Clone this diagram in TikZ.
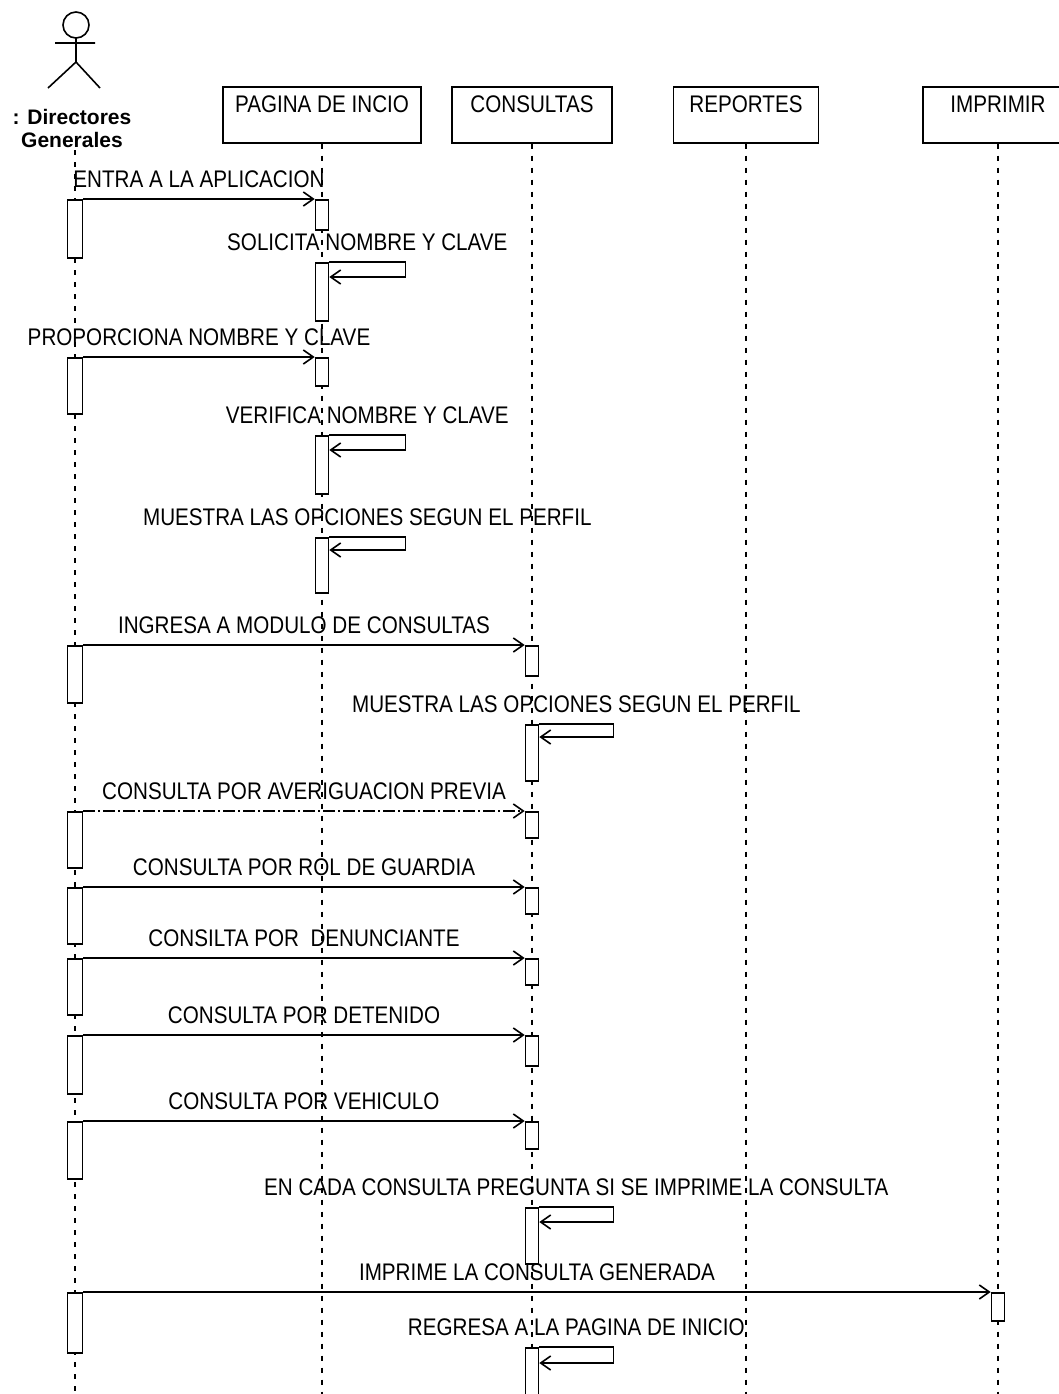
\documentclass[tikz,border=0pt]{standalone}
\usepackage{fontspec}
\setmainfont{Liberation Sans}[FakeStretch=0.86]
\newfontfamily\actorfont{Liberation Sans}
\usetikzlibrary{arrows.meta, calc}

\tikzset{
  lifeline/.style={line width=0.8pt, dash pattern=on 2.5pt off 3.5pt},
  objbox/.style={draw, line width=0.8pt, inner ysep=0pt, text height=13pt, text depth=15pt, anchor=north},
  bar/.style={draw, fill=white, line width=0.8pt, inner sep=0pt, minimum width=6.5pt, anchor=north},
  msg/.style={line width=0.8pt, -{Straight Barb[length=5pt,width=7pt]}},
  msglabel/.style={midway, anchor=center, yshift=10pt, inner sep=0pt},
}

\begin{document}
\begin{tikzpicture}[x=0.5pt, y=-0.5pt, font=\fontsize{12}{14}\selectfont]
    \useasboundingbox (0,0) rectangle (1059,1394);
    \coordinate (bottom) at (0,1394);

    % actor
    \draw[line width=0.8pt] (76,25) circle[radius=13];
    \draw[line width=0.8pt] (76,38) -- (76,62) (55,43) -- (95,43) (48,88) -- (76,62) -- (100,88);
    \node[font=\actorfont\bfseries\fontsize{10.5}{11.5}\selectfont, align=center, inner sep=0pt] (actor) at (72,128) {: Directores\\Generales};
    \coordinate (acttop) at (75,150);

    % objects
    \foreach \n/\x/\w/\t in {pag/322/99pt/PAGINA DE INCIO, con/532/80pt/CONSULTAS, rep/746/72.5pt/REPORTES, imp/998/75pt/IMPRIMIR}
    {
        \node[objbox, minimum width=\w] (\n) at (\x,86) {\t};
    }

    % lifelines
    \foreach \n in {acttop, pag.south, con.south, rep.south, imp.south}
    {
        \draw[lifeline] (\n) -- (\n |- bottom);
    }

    % activation bars
    \foreach \n/\t/\b in {a1/199/257, a2/357/413, a3/645/702, a4/811/867, a5/887/943, a6/958/1014, a7/1035/1093, a8/1121/1178, a9/1292/1352}
    {
        \node[bar, minimum width=7.5pt, minimum height={(\b-\t)*0.5pt}] (\n) at (75,\t) {};
    }
    \foreach \n/\l/\t/\b in {p1/pag/199/229, p2/pag/262/320, p3/pag/357/385, p4/pag/435/493, p5/pag/537/592,
        c1/con/645/675, c2/con/724/780, c3/con/811/837, c4/con/887/913, c5/con/958/984, c6/con/1035/1065,
        c7/con/1121/1148, c8/con/1207/1263, c9/con/1347/1400, i1/imp/1292/1320}
    {
        \node[bar, minimum height={(\b-\t)*0.5pt}] (\n) at (\l.south |- 0,\t) {};
    }

    % pagina de inicio
    \draw[msg] (a1.north east) -- (p1.north west) node[msglabel] {ENTRA A LA APLICACION};
    \draw[msg] (p2.north east) -- ++(76,0) node[msglabel] {SOLICITA NOMBRE Y CLAVE} -- ++(0,15) -- ($(p2.north east)+(0,15)$);
    \draw[msg] (a2.north east) -- (p3.north west) node[msglabel] {PROPORCIONA NOMBRE Y CLAVE};
    \draw[msg] (p4.north east) -- ++(76,0) node[msglabel] {VERIFICA NOMBRE Y CLAVE} -- ++(0,15) -- ($(p4.north east)+(0,15)$);
    \draw[msg] (p5.north east) -- ++(76,0) node[msglabel] {MUESTRA LAS OPCIONES SEGUN EL PERFIL} -- ++(0,13) -- ($(p5.north east)+(0,13)$);

    % consultas
    \draw[msg] (a3.north east) -- (c1.north west) node[msglabel] {INGRESA A MODULO DE CONSULTAS};
    \draw[msg] (c2.north east) -- ++(74,0) node[msglabel] {MUESTRA LAS OPCIONES SEGUN EL PERFIL} -- ++(0,13) -- ($(c2.north east)+(0,13)$);
    \draw[msg, dash pattern=on 6pt off 1.5pt on 1pt off 1.5pt] (a4.north east) -- (c3.north west) node[msglabel] {CONSULTA POR AVERIGUACION PREVIA};
    \draw[msg] (a5.north east) -- (c4.north west) node[msglabel] {CONSULTA POR ROL DE GUARDIA};
    \draw[msg] (a6.north east) -- (c5.north west) node[msglabel] {CONSILTA POR\ \ DENUNCIANTE};
    \draw[msg] (a7.north east) -- (c6.north west) node[msglabel] {CONSULTA POR DETENIDO};
    \draw[msg] (a8.north east) -- (c7.north west) node[msglabel] {CONSULTA POR VEHICULO};
    \draw[msg] (c8.north east) -- ++(74,0) node[msglabel] {EN CADA CONSULTA PREGUNTA SI SE IMPRIME LA CONSULTA} -- ++(0,15) -- ($(c8.north east)+(0,15)$);

    % imprimir
    \draw[msg] (a9.north east) -- (i1.north west) node[msglabel] {IMPRIME LA CONSULTA GENERADA};
    \draw[msg] (c9.north east) -- ++(74,0) node[msglabel] {REGRESA A LA PAGINA DE INICIO} -- ++(0,16) -- ($(c9.north east)+(0,16)$);
\end{tikzpicture}
\end{document}
